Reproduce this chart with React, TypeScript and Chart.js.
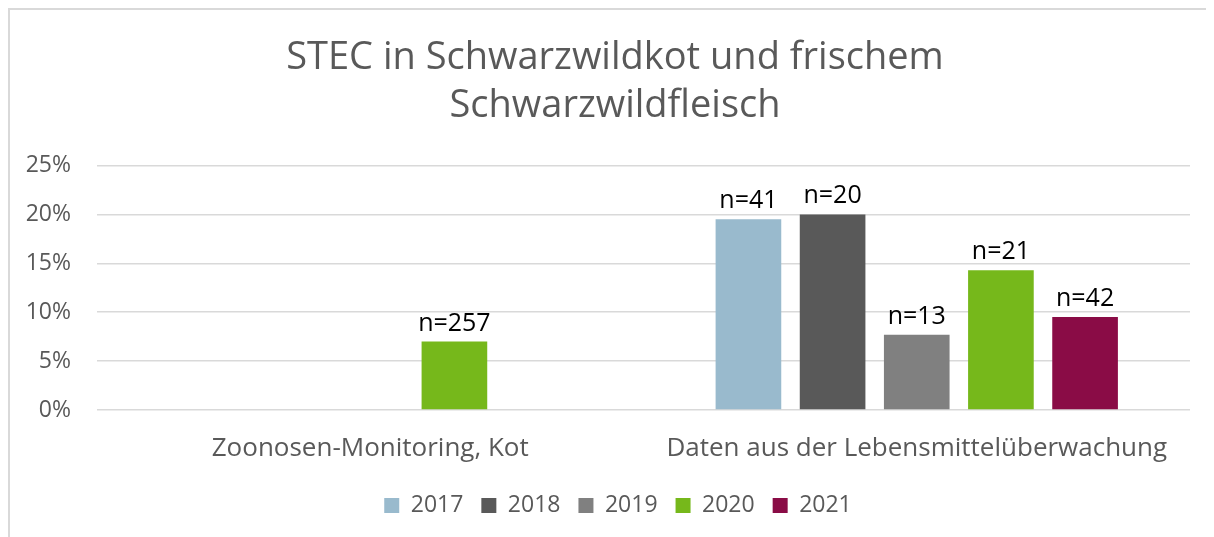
import React, { useEffect, useRef } from "react";
import { Chart, registerables } from "chart.js";

Chart.register(...registerables);

const categories = ["Zoonosen-Monitoring, Kot", "Daten aus der Lebensmittelüberwachung"];
const years = ["2017", "2018", "2019", "2020", "2021"];
const values2017 = [null, 19.5];
const values2018 = [null, 20.0];
const values2019 = [null, 7.7];
const values2020 = [7.0, 14.3];
const values2021 = [null, 9.5];
const labels2017 = [null, "n=41"];
const labels2018 = [null, "n=20"];
const labels2019 = [null, "n=13"];
const labels2020 = ["n=257", "n=21"];
const labels2021 = [null, "n=42"];
const colors = ["#99BACD", "#595959", "#808080", "#76B81B", "#8A0C46"];
const yTicks = [0, 5, 10, 15, 20, 25];
const titleLines = ["STEC in Schwarzwildkot und frischem", "Schwarzwildfleisch"];

const FONT = "'Open Sans', 'Noto Sans', sans-serif";

const nLabelPlugin = {
  id: "nLabels",
  afterDatasetsDraw(chart: any) {
    const ctx = chart.ctx;
    ctx.save();
    ctx.font = `25px ${FONT}`;
    ctx.fillStyle = "#000000";
    ctx.textAlign = "center";
    ctx.textBaseline = "alphabetic";
    chart.data.datasets.forEach((ds: any, i: number) => {
      const meta = chart.getDatasetMeta(i);
      meta.data.forEach((bar: any, j: number) => {
        const lbl = ds.nLabels[j];
        if (lbl == null || ds.data[j] == null) return;
        ctx.fillText(lbl, bar.x, bar.y - 11);
      });
    });
    ctx.restore();
  },
};

// nudge the title and legend boxes to the right, as in the reference layout
const boxShiftPlugin = {
  id: "boxShift",
  afterLayout(chart: any) {
    const t = chart.titleBlock;
    if (t) {
      t.left += 10;
      t.right += 10;
    }
    const l = chart.legend;
    if (l) {
      l.left += 13;
      l.right += 13;
    }
  },
};

export default function App() {
  const ref = useRef<HTMLCanvasElement>(null);
  useEffect(() => {
    const vals = [values2017, values2018, values2019, values2020, values2021];
    const lbls = [labels2017, labels2018, labels2019, labels2020, labels2021];
    const chart = new Chart(ref.current!, {
      type: "bar",
      data: {
        labels: categories,
        datasets: years.map((y, i) => ({
          label: y,
          data: vals[i],
          nLabels: lbls[i],
          backgroundColor: colors[i],
          borderWidth: 0,
          barPercentage: 0.78,
          categoryPercentage: 0.77,
        })) as any,
      },
      options: {
        animation: false,
        responsive: false,
        devicePixelRatio: 1,
        layout: { padding: { left: 10, right: 24, top: 0, bottom: 10 } },
        plugins: {
          title: {
            display: true,
            text: titleLines,
            color: "#595959",
            font: { family: FONT, size: 38, weight: "normal", lineHeight: 1.27 },
            padding: { top: 24, bottom: 35 },
          },
          legend: {
            position: "bottom",
            labels: {
              color: "#595959",
              font: { family: FONT, size: 23 },
              boxWidth: 15,
              boxHeight: 15,
              padding: 18,
            },
          },
          tooltip: { enabled: false },
        },
        scales: {
          x: {
            grid: { display: false, drawTicks: false },
            border: { display: false },
            ticks: {
              color: "#595959",
              font: { family: FONT, size: 26 },
              padding: 23,
              maxRotation: 0,
            },
            afterFit(scale: any) {
              scale.height = 66;
            },
          },
          y: {
            min: 0,
            max: 25,
            afterBuildTicks(scale: any) {
              scale.ticks = yTicks.map((v) => ({ value: v }));
            },
            grid: { color: "#D9D9D9", lineWidth: 1.5, drawTicks: false },
            border: { display: false },
            ticks: {
              color: "#595959",
              font: { family: FONT, size: 23 },
              padding: 26,
              callback: (v: any) => `${v}%`,
            },
            afterFit(scale: any) {
              scale.width = 77;
            },
          },
        },
      },
      plugins: [nLabelPlugin, boxShiftPlugin],
    });
    return () => chart.destroy();
  }, []);
  return (
    <div
      style={{
        width: 1206,
        height: 529,
        borderTop: "2px solid #D9D9D9",
        borderLeft: "2px solid #D9D9D9",
        boxSizing: "border-box",
        overflow: "hidden",
        background: "#fff",
      }}
    >
      <canvas ref={ref} width={1204} height={527} style={{ display: "block" }} />
    </div>
  );
}
